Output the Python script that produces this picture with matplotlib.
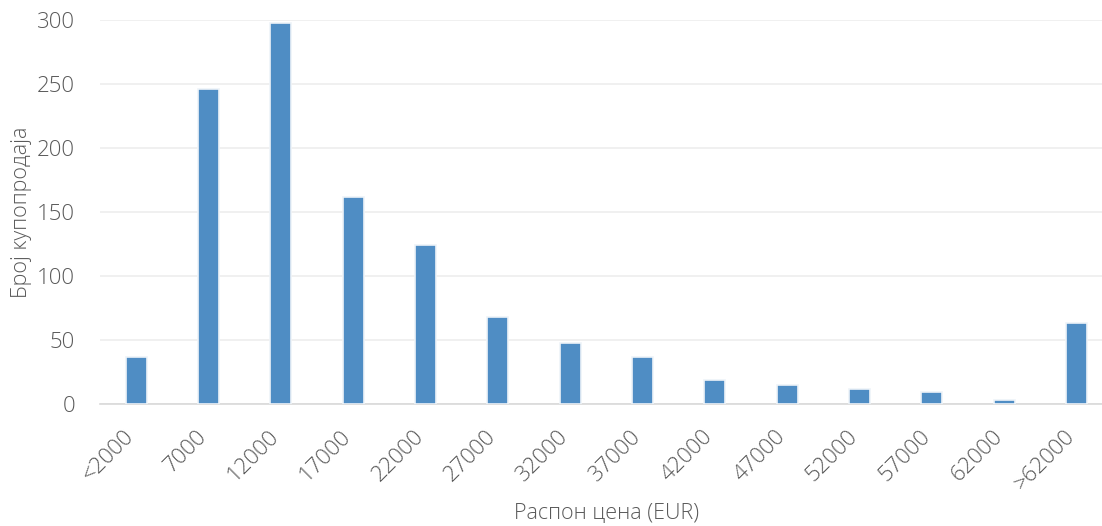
import matplotlib
matplotlib.use("Agg")
import matplotlib.pyplot as plt
from matplotlib.transforms import ScaledTranslation

CATEGORIES = ["<2000", "7000", "12000", "17000", "22000", "27000", "32000",
              "37000", "42000", "47000", "52000", "57000", "62000", ">62000"]
COUNTS = [37, 246, 298, 162, 124, 68, 48, 37, 19, 15, 12, 9, 3, 63]

BAR_COLOR = "#4f8dc4"
TEXT_COLOR = "#595959"

plt.rcParams["font.family"] = ["Open Sans", "DejaVu Sans"]

fig = plt.figure(figsize=(11.02, 5.26), dpi=100)
ax = fig.add_axes([0.0907, 0.232, 0.919, 0.730])

x = range(len(CATEGORIES))
ax.bar(x, COUNTS, width=0.29, color=BAR_COLOR, edgecolor="#eef3f8",
       linewidth=1.2, zorder=3)

ax.set_xlim(-0.5, len(CATEGORIES) - 0.5)
ax.set_ylim(0, 300)
ax.set_yticks(range(0, 301, 50))
ax.grid(axis="y", color="#eeeeee", linewidth=1.2, zorder=0)
ax.set_xticks(list(x))
ax.set_xticklabels(CATEGORIES, rotation=45, ha="right", va="center",
                   rotation_mode="anchor", fontweight="light")
for lbl in ax.get_yticklabels():
    lbl.set_fontweight("light")

ax.tick_params(axis="both", length=0, labelsize=16, colors=TEXT_COLOR)
ax.tick_params(axis="x", pad=21)
ax.tick_params(axis="y", pad=18)

# nudge rotated labels a little to the left, as in the original
shift = ScaledTranslation(-5 / 100, 0, fig.dpi_scale_trans)
for lbl in ax.get_xticklabels():
    lbl.set_transform(lbl.get_transform() + shift)

for side in ("top", "right", "left"):
    ax.spines[side].set_visible(False)
ax.spines["bottom"].set_color("#d9d9d9")
ax.spines["bottom"].set_linewidth(1.2)

ax.set_ylabel("Број купопродаја", fontsize=15.5, color=TEXT_COLOR,
              fontweight="light")
ax.set_xlabel("Распон цена (EUR)", fontsize=15.5, color=TEXT_COLOR,
              fontweight="light")
ax.yaxis.set_label_coords(-0.067, 0.5)
ax.xaxis.set_label_coords(0.5, -0.258)

fig.savefig("out.png", dpi=100)
